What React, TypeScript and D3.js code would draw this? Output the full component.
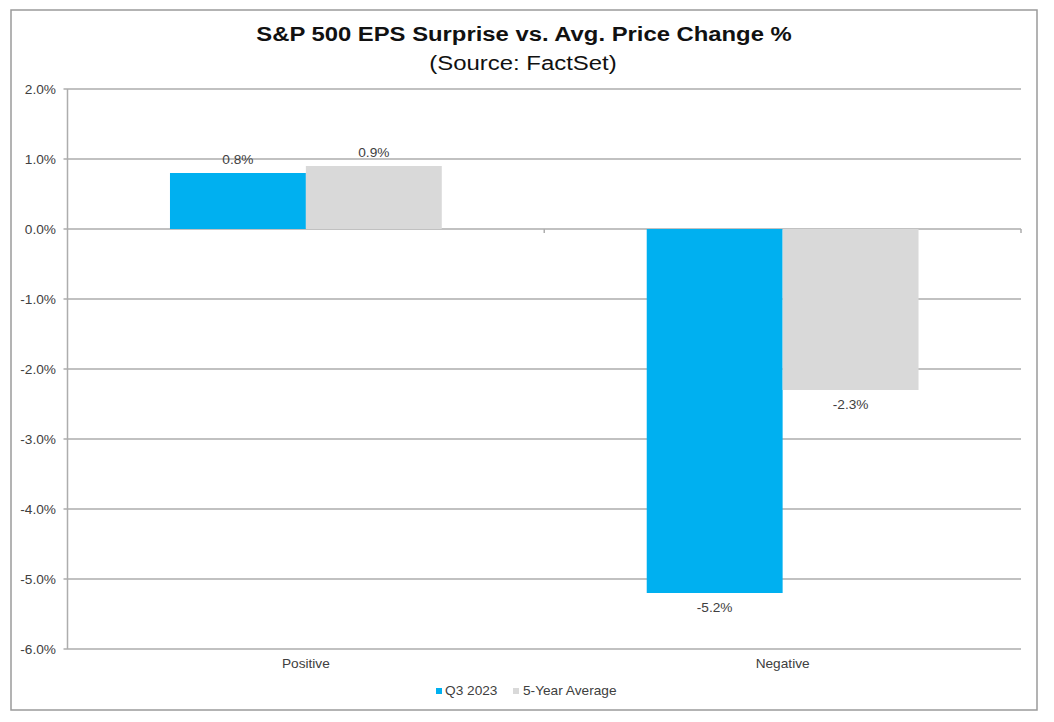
import React from "react";
import * as d3 from "d3";

const categories = ["Positive", "Negative"];
const seriesNames = ["Q3 2023", "5-Year Average"];
const q3Values = [0.8, -5.2];
const avgValues = [0.9, -2.3];
const yTicks = [2, 1, 0, -1, -2, -3, -4, -5, -6];
const seriesColors = ["#00B0F0", "#D9D9D9"];

const W = 1054;
const H = 722;
const plot = { left: 67.5, right: 1021, top: 89, bottom: 649 };
const SX = 1.14;

type TProps = {
  x: number;
  y: number;
  size: number;
  anchor?: "start" | "middle" | "end";
  weight?: string;
  fill?: string;
  sx?: number;
  children: React.ReactNode;
};

function T({ x, y, size, anchor = "start", weight = "normal", fill = "#404040", sx = SX, children }: TProps) {
  return (
    <text
      transform={`translate(${x},${y}) scale(${sx},1)`}
      textAnchor={anchor}
      fontSize={size}
      fontWeight={weight}
      fill={fill}
    >
      {children}
    </text>
  );
}

export default function App() {
  const y = d3.scaleLinear().domain([-6, 2]).range([plot.bottom, plot.top]);
  const x = d3.scaleBand<string>().domain(categories).range([plot.left, plot.right]).padding(0);
  const xs = d3
    .scaleBand<string>()
    .domain(seriesNames)
    .range([0, x.bandwidth()])
    .paddingInner(0)
    .paddingOuter(0.754);
  const series = [q3Values, avgValues];
  const font = "Arial, 'Liberation Sans', sans-serif";
  const fmt = (v: number) => `${v.toFixed(1)}%`;

  return (
    <svg
      width={W}
      height={H}
      style={{ position: "absolute", left: 0, top: 0, background: "#fff" }}
      fontFamily={font}
    >
      <rect x={11} y={10} width={1026} height={700} fill="#fff" stroke="#9a9a9a" strokeWidth={1.5} />
      <T x={524} y={41} size={21} weight="bold" anchor="middle" fill="#111" sx={1.135}>
        S&amp;P 500 EPS Surprise vs. Avg. Price Change %
      </T>
      <T x={523} y={70} size={21} anchor="middle" fill="#111" sx={1.14}>
        (Source: FactSet)
      </T>

      {yTicks.map((t) => (
        <g key={t}>
          <line x1={plot.left - 4} x2={plot.right} y1={y(t)} y2={y(t)} stroke="#adadad" strokeWidth={1.5} />
          <T x={56} y={y(t) + 4.5} size={12} anchor="end">
            {fmt(t)}
          </T>
        </g>
      ))}
      <line x1={plot.left} x2={plot.left} y1={plot.top} y2={plot.bottom} stroke="#adadad" strokeWidth={1.5} />
      {[plot.left + x.bandwidth(), plot.right].map((tx, i) => (
        <line key={i} x1={tx} x2={tx} y1={y(0)} y2={y(0) + 4} stroke="#adadad" strokeWidth={1.5} />
      ))}

      {categories.map((c, ci) =>
        seriesNames.map((s, si) => {
          const v = series[si][ci];
          const bx = (x(c) ?? 0) + (xs(s) ?? 0);
          const top = y(Math.max(0, v));
          const h = Math.abs(y(v) - y(0));
          return (
            <g key={c + s}>
              <rect x={bx} y={top} width={xs.bandwidth()} height={h} fill={seriesColors[si]} />
              <T x={bx + xs.bandwidth() / 2} y={v >= 0 ? y(v) - 9.5 : y(v) + 19} size={12} anchor="middle">
                {fmt(v)}
              </T>
            </g>
          );
        })
      )}

      {categories.map((c) => (
        <T key={c} x={(x(c) ?? 0) + x.bandwidth() / 2} y={668} size={12} anchor="middle">
          {c}
        </T>
      ))}

      <g>
        <rect x={436} y={688} width={6} height={6} fill={seriesColors[0]} />
        <T x={445} y={694.5} size={12}>
          {seriesNames[0]}
        </T>
        <rect x={513} y={688} width={6} height={6} fill={seriesColors[1]} />
        <T x={523} y={694.5} size={12}>
          {seriesNames[1]}
        </T>
      </g>
    </svg>
  );
}
